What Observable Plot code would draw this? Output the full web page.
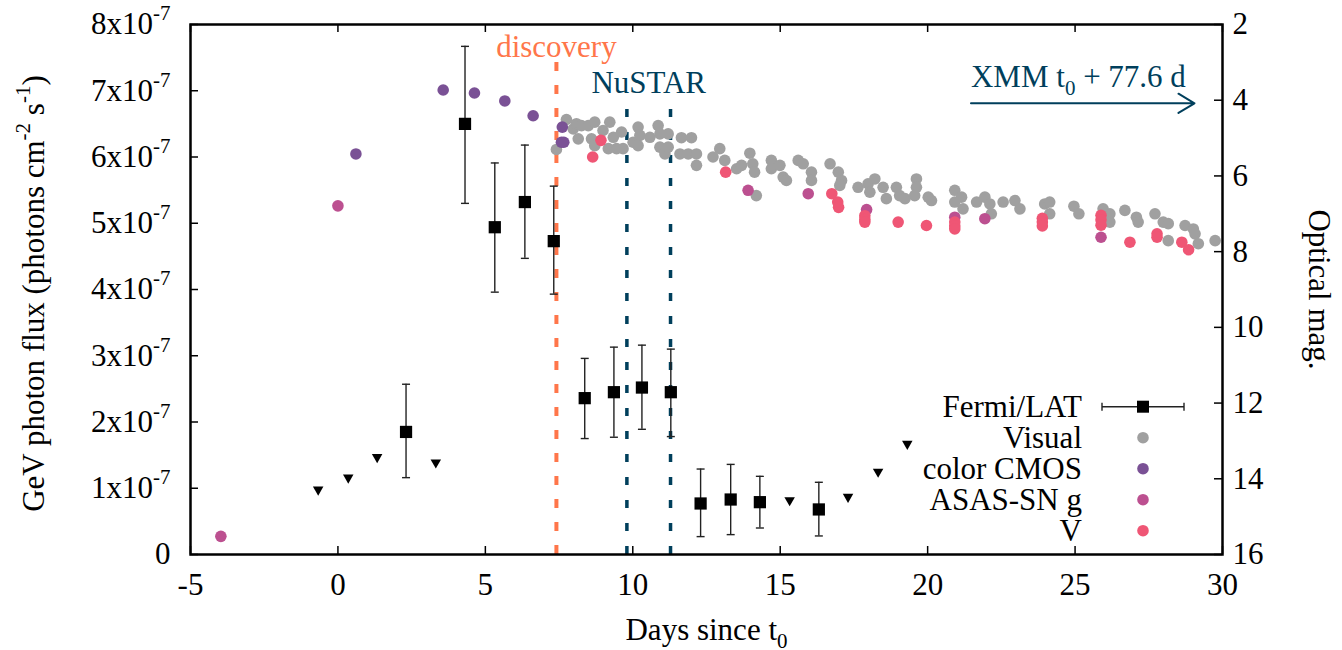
<!DOCTYPE html>
<html><head><meta charset="utf-8">
<script src="https://cdn.jsdelivr.net/npm/d3@7"></script>
<script src="https://cdn.jsdelivr.net/npm/@observablehq/plot@0.6"></script>
<style>body{margin:0;background:#fff;}</style>
</head><body><div id="chart"></div>
<script>
// ---------- axes / ticks ----------
const xTicks = [-5, 0, 5, 10, 15, 20, 25, 30];
const fluxTicks = [0, 1, 2, 3, 4, 5, 6, 7, 8];          // ×10^-7 photons cm^-2 s^-1
const magTicks = [2, 4, 6, 8, 10, 12, 14, 16];
const magBottom = 16, magTop = 2;

// ---------- Fermi/LAT detections (flux ×10^-7) ----------
const fermiDay  = [2.31, 4.31, 5.32, 6.34, 7.32, 8.37, 9.36, 10.31, 11.29, 12.30, 13.32, 14.31, 16.31];
const fermiFlux = [1.85, 6.50, 4.94, 5.32, 4.73, 2.36, 2.45, 2.52, 2.45, 0.77, 0.83, 0.79, 0.68];
const fermiLo   = [1.16, 5.30, 3.96, 4.47, 3.93, 1.75, 1.77, 1.89, 1.78, 0.27, 0.30, 0.40, 0.28];
const fermiHi   = [2.57, 7.67, 5.91, 6.18, 5.56, 2.96, 3.13, 3.16, 3.10, 1.29, 1.36, 1.18, 1.09];

// ---------- Fermi/LAT upper limits (×10^-7) ----------
const ulDay  = [-0.67, 0.35, 1.33, 3.32, 15.32, 17.30, 18.32, 19.31];
const ulFlux = [0.98, 1.16, 1.47, 1.39, 0.82, 0.87, 1.25, 1.67];

// ---------- Optical: Visual ----------
const visualDay = [7.41, 7.75, 7.98, 8.09, 8.26, 8.15, 8.49, 8.71, 8.60, 8.71, 8.99, 9.22, 9.17, 9.45, 9.34, 9.62, 9.67,
  10.01, 10.18, 10.24, 10.18, 10.58, 10.86, 10.92, 11.20, 10.92, 11.09, 11.20, 11.65, 11.99, 11.60, 11.88, 12.16, 12.16,
  12.72, 12.95, 13.12, 13.52, 13.69, 13.97, 14.07, 14.13, 14.19, 14.70, 14.70, 14.99, 15.10, 15.21, 15.61, 15.78, 16.06,
  16.06, 16.69, 16.97, 17.08, 17.02, 17.64, 17.98, 18.21, 18.04, 18.49, 18.60, 18.94, 19.05, 19.23, 19.62, 19.62, 19.56,
  20.02, 20.13, 20.92, 21.15, 20.92, 21.20, 21.66, 21.94, 22.11, 22.16, 22.56, 22.96, 23.13, 23.97, 24.14, 24.14, 24.96,
  25.13, 25.95, 26.18, 26.18, 26.69, 27.08, 27.14, 27.71, 27.99, 28.16, 28.16, 28.73, 29.01, 29.07, 29.18, 29.75];
const visualMag = [5.30, 4.51, 4.76, 4.62, 4.67, 5.02, 4.67, 4.58, 5.02, 5.20, 4.80, 4.58, 5.28, 5.28, 4.98, 4.84, 5.28,
  5.11, 4.71, 4.93, 5.20, 4.98, 4.67, 4.89, 4.89, 5.24, 5.42, 5.24, 4.99, 4.99, 5.42, 5.42, 5.42, 5.72,
  5.50, 5.28, 5.59, 5.81, 5.72, 5.40, 5.68, 5.90, 6.52, 5.59, 5.81, 5.72, 6.03, 6.12, 5.59, 5.68, 5.90,
  6.12, 5.68, 5.90, 6.12, 6.25, 6.30, 6.21, 6.08, 6.43, 6.30, 6.60, 6.30, 6.52, 6.60, 6.08, 6.30, 6.52,
  6.56, 6.65, 6.38, 6.56, 6.69, 6.87, 6.69, 6.56, 6.74, 7.00, 6.69, 6.65, 6.87, 6.74, 6.69, 7.00, 6.80,
  7.00, 6.87, 7.00, 7.22, 6.91, 7.09, 7.22, 7.00, 7.22, 7.26, 7.71, 7.31, 7.40, 7.53, 7.79, 7.71];

// ---------- Optical: color CMOS ----------
const cmosDay = [0.61, 3.57, 4.63, 5.66, 6.62, 7.61, 7.58, 7.66];
const cmosMag = [5.42, 3.73, 3.81, 4.02, 4.41, 4.71, 5.11, 5.11];

// ---------- Optical: ASAS-SN g ----------
const asasDay = [-3.97, 0.00, 13.91, 15.95, 17.93, 20.92, 21.94, 25.88];
const asasMag = [15.52, 6.79, 6.38, 6.47, 6.89, 7.09, 7.13, 7.62];

// ---------- Optical: V ----------
const vDay = [8.64, 8.92, 13.15, 16.75, 16.95, 16.98, 17.87, 17.87, 17.87, 19.00, 19.96, 20.92, 20.92, 20.92,
  23.89, 23.89, 23.89, 25.88, 25.88, 25.88, 26.86, 27.78, 27.78, 28.62, 28.85];
const vMag = [5.50, 5.06, 5.90, 6.47, 6.69, 6.83, 7.05, 7.15, 7.22, 7.22, 7.31, 7.22, 7.32, 7.40,
  7.12, 7.22, 7.32, 7.04, 7.16, 7.30, 7.75, 7.53, 7.62, 7.75, 7.95];

// ---------- annotations ----------
const discoveryDay = [7.41];
const discoveryTop = [7.43];      // flux units where the dashed line starts
const nustarDays = [9.80, 11.28];
const nustarTop = [6.81];
const xmmArrow = [{x1: 21.47, x2: 29.05, y: 6.81}];

const legendLabels = ["Fermi/LAT", "Visual", "color CMOS", "ASAS-SN g", "V"];
const C = {visual: "#a0a0a0", cmos: "#7a5195", asas: "#bc5090", v: "#ef5675",
  discovery: "#ff764a", nustar: "#003f5c", fermi: "#000000"};
const legendColors = [C.fermi, C.visual, C.cmos, C.asas, C.v];

// ---------- helpers ----------
const FS = 31, DOT_R = 5.8;
const magToFlux = m => (magBottom - m) * 8 / (magBottom - magTop);
const fluxToMag = f => magBottom - f * (magBottom - magTop) / 8;
const idx = a => d3.range(a.length);
const W = 1342, H = 650, mL = 190, mR = 120, mT = 24, mB = 96;
const plotW = W - mL - mR, plotH = H - mT - mB;
const capSymbol = {draw(ctx, size) { const w = Math.sqrt(size / Math.PI); ctx.moveTo(-w, 0); ctx.lineTo(w, 0); }};
const optDot = (days, mags, color) => Plot.dot(idx(days), {x: i => days[i], y: i => magToFlux(mags[i]), r: DOT_R, fill: color});

const svg = Plot.plot({
  width: W, height: H, marginLeft: mL, marginRight: mR, marginTop: mT, marginBottom: mB,
  style: {fontFamily: "'Liberation Serif','Times New Roman',Times,serif", fontSize: FS + "px", background: "#fff", color: "#000", overflow: "visible"},
  x: {domain: [-5, 30]},
  y: {domain: [0, 8]},
  marks: [
    Plot.ruleX(discoveryDay, {x: d => d, y1: () => 0, y2: () => discoveryTop[0], stroke: C.discovery, strokeWidth: 4, strokeDasharray: "9,14"}),
    Plot.ruleX(nustarDays, {x: d => d, y1: () => 0, y2: () => nustarTop[0], stroke: C.nustar, strokeWidth: 3.5, strokeDasharray: "8,15"}),
    optDot(visualDay, visualMag, C.visual),
    optDot(cmosDay, cmosMag, C.cmos),
    optDot(asasDay, asasMag, C.asas),
    optDot(vDay, vMag, C.v),
    Plot.ruleX(idx(fermiDay), {x: i => fermiDay[i], y1: i => fermiLo[i], y2: i => fermiHi[i], stroke: "#222", strokeWidth: 1.4}),
    Plot.dot(idx(fermiDay), {x: i => fermiDay[i], y: i => fermiLo[i], symbol: capSymbol, r: 4, stroke: "#222", strokeWidth: 1.4}),
    Plot.dot(idx(fermiDay), {x: i => fermiDay[i], y: i => fermiHi[i], symbol: capSymbol, r: 4, stroke: "#222", strokeWidth: 1.4}),
    Plot.dot(idx(fermiDay), {x: i => fermiDay[i], y: i => fermiFlux[i], symbol: "square", r: 6.9, fill: C.fermi}),
    Plot.dot(idx(ulDay), {x: i => ulDay[i], y: i => ulFlux[i], symbol: "triangle", rotate: 180, r: 3.9, fill: C.fermi}),
    Plot.arrow(xmmArrow, {x1: "x1", x2: "x2", y1: "y", y2: "y", stroke: C.nustar, strokeWidth: 2, headLength: 14, headAngle: 62}),
    Plot.text(["discovery"], {x: () => discoveryDay[0], text: d => d, frameAnchor: "top", dy: 32, lineAnchor: "bottom", textAnchor: "middle", fill: C.discovery}),
    Plot.text(["NuSTAR"], {x: () => (nustarDays[0] + nustarDays[1]) / 2, text: d => d, frameAnchor: "top", dy: 68, lineAnchor: "bottom", textAnchor: "middle", fill: C.nustar}),
    Plot.text(["XMM t_{0} + 77.6 d"], {x: () => xmmArrow[0].x1, text: d => d, frameAnchor: "top", dy: 62.7, lineAnchor: "bottom", textAnchor: "start", fill: C.nustar}),
    Plot.tickY(fluxTicks, {y: d => d, insetRight: plotW - 8, strokeWidth: 1.5}),
    Plot.tickY(magTicks, {y: m => magToFlux(m), insetLeft: plotW - 8, strokeWidth: 1.5}),
    Plot.tickX(xTicks, {x: d => d, insetTop: plotH - 8, strokeWidth: 1.5}),
    Plot.tickX(xTicks, {x: d => d, insetBottom: plotH - 8, strokeWidth: 1.5}),
    Plot.frame({stroke: "#000", strokeWidth: 2.5}),
    Plot.axisX({ticks: xTicks, tickSize: 0, tickPadding: 18, label: null, tickFormat: d => String(d)}),
    Plot.axisY({ticks: fluxTicks, tickSize: 0, tickPadding: 20, label: null,
      tickFormat: d => d === 0 ? "0" : `${d}x10^{-7}`}),
    Plot.axisY({anchor: "right", ticks: magTicks.map(magToFlux), tickSize: 0, tickPadding: 10, label: null,
      tickFormat: f => String(Math.round(fluxToMag(f)))}),
    Plot.text(["GeV photon flux (photons cm^{-2} s^{-1})"], {text: d => d, frameAnchor: "left", dx: -156, dy: 4, rotate: -90, lineAnchor: "middle", textAnchor: "middle"}),
    Plot.text(["Optical mag."], {text: d => d, frameAnchor: "right", dx: 96, rotate: 90, lineAnchor: "middle", textAnchor: "middle"}),
    Plot.text(["Days since t_{0}"], {text: d => d, frameAnchor: "bottom", dy: 85, lineAnchor: "bottom", textAnchor: "middle"})
  ]
});

// rich text: ^{..} superscript, _{..} subscript
d3.select(svg).selectAll("text").each(function() {
  const t = this.textContent;
  if (!/[\^_]\{/.test(t)) return;
  const parts = t.split(/([\^_]\{[^}]*\})/).filter(p => p);
  this.textContent = "";
  let shift = 0;
  for (const p of parts) {
    const m = p.match(/^([\^_])\{(.*)\}$/);
    const ts = d3.select(this).append("tspan");
    if (m) {
      const s = m[1] === "^" ? -14 : 8;
      ts.attr("dy", s - shift).attr("font-size", 21).text(m[2]);
      shift = s;
    } else {
      ts.attr("dy", -shift).text(p);
      shift = 0;
    }
  }
});

// legend
const lg = d3.select(svg).append("g").attr("font-size", FS);
legendLabels.forEach((lab, i) => {
  const base = 417 + i * 31, cy = base - 10.3, sx = 1143;
  lg.append("text").attr("x", 1082).attr("y", base).attr("text-anchor", "end").text(lab);
  if (i === 0) {
    lg.append("path").attr("d", `M1102,${cy}H1184M1102,${cy - 4}V${cy + 4}M1184,${cy - 4}V${cy + 4}`)
      .attr("stroke", "#222").attr("stroke-width", 1.4).attr("fill", "none");
    lg.append("rect").attr("x", sx - 6).attr("y", cy - 6).attr("width", 12).attr("height", 12).attr("fill", legendColors[i]);
  } else {
    lg.append("circle").attr("cx", sx).attr("cy", cy).attr("r", DOT_R).attr("fill", legendColors[i]);
  }
});

document.getElementById("chart").append(svg);
</script></body></html>
